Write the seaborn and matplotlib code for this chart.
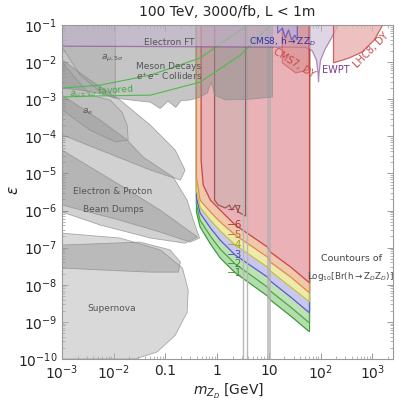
import numpy as np
import matplotlib
matplotlib.use("Agg")
import matplotlib.pyplot as plt
from matplotlib.ticker import LogLocator, NullFormatter
import seaborn as sns

# all shapes given as (log10 m_ZD / GeV, log10 epsilon)

# existing constraints (gray)
supernova_lm = [-3, -1.88, -1.10, -0.67, -0.56, -0.58, -0.81, -1.16, -1.59, -3]
supernova_le = [-6.61, -6.74, -7.06, -7.55, -8.14, -8.74, -9.36, -9.81, -10, -10]

e137_lm = [-3, -1.49, -0.91, -0.71, -0.75, -1.29, -2.26, -3]
e137_le = [-6.93, -6.85, -7.06, -7.39, -7.66, -7.66, -7.60, -7.55]

dump1_lm = [-3, -2.26, -1.74, -1.43, -0.85, -0.58, -0.46, -0.34, -0.52, -1.10, -1.88, -3]
dump1_le = [-2.89, -3.56, -4.10, -4.56, -5.10, -5.72, -6.26, -6.74, -6.85, -6.58, -6.26, -5.85]

dump2_lm = [-3, -1.88, -1.10, -0.62, -0.38, -0.62, -1.29, -2.26, -3]
dump2_le = [-4.37, -5.31, -5.99, -6.47, -6.71, -6.88, -6.74, -6.39, -6.04]

dump3_lm = [-3, -2.46, -1.88, -1.29, -0.81, -0.62, -0.71, -1.29, -2.26, -3]
dump3_le = [-1.94, -2.48, -3.02, -3.70, -4.37, -4.91, -5.18, -4.91, -4.37, -3.96]

ae_lm = [-3, -2.46, -2.07, -1.84, -1.74, -1.72, -1.97, -2.46, -3]
ae_le = [-2.0, -2.89, -3.02, -3.35, -3.70, -4.10, -4.15, -3.83, -3.29]

amu5_lm = [-3, -2.65, -2.26, -1.97, -1.97, -3]
amu5_le = [-1.59, -2.35, -2.80, -2.97, -1.0, -1.0]

top_lm = [-3, 1.07, 1.07, 0.64, 0.16, -0.05, -0.11, -0.19, -0.33, -0.52,
          -0.70, -0.80, -0.95, -1.10, -1.29, -1.68, -1.97, -2.26, -2.65, -3]
top_le = [-1, -1, -2.94, -3.0, -3.02, -2.89, -2.54, -2.83, -2.94, -3.02,
          -3.04, -3.22, -3.05, -3.25, -3.08, -3.02, -2.97, -2.85, -2.75, -2.70]

amu_hi_lm = [-3, -2.26, -1.29, -0.33, 0.59]
amu_hi_le = [-2.70, -2.62, -2.35, -1.89, -1.0]
amu_lo_lm = [-3, -2.26, -1.29, -0.33, 0.45, 1.03]
amu_lo_le = [-2.94, -2.91, -2.89, -2.54, -1.81, -1.0]

ewpt_lm = [-3, 2.35, 2.19, 2.08, 2.0, 1.97, 1.96, 1.95, 1.92, 1.84, 1.71, -3]
ewpt_le = [-1, -1, -1.40, -1.67, -1.95, -2.3, -2.54, -2.3, -1.95, -1.70, -1.60, -1.57]

lhc8_lm = [2.25, 2.25, 2.55, 2.80, 3.04, 3.20]
lhc8_le = [-1, -2.02, -1.89, -1.73, -1.40, -1.0]

cms7_lm = [1.26, 1.26, 1.52, 1.77, 1.77]
cms7_le = [-1, -2.02, -2.29, -2.21, -1]

cms8_lm = [1.17, 1.17, 1.26, 1.32, 1.38, 1.44, 1.50, 1.55, 1.55]
cms8_le = [-1, -1.22, -1.08, -1.35, -1.13, -1.40, -1.27, -1.40, -1]

# resonance vetoes [GeV]
psi_masses = [3.1, 3.7]
upsilon_band = [9.4, 11.0]

# Log10 Br(h -> ZD ZD) contours at 100 TeV
grid_lm = [-0.40, -0.33, -0.13, 0.06, 0.35, 0.97, 1.03, 1.42, 1.77]
c6_lm = [-0.31, -0.27, -0.13, 0.06, 0.35, 0.97, 1.03, 1.42, 1.77]
c6_le = [-4.64, -5.31, -5.72, -5.99, -6.39, -6.98, -7.12, -7.52, -7.93]
c5_le = [-5.12, -5.72, -6.04, -6.31, -6.66, -7.25, -7.39, -7.79, -8.20]
c4_le = [-5.45, -5.91, -6.26, -6.55, -6.93, -7.52, -7.63, -8.06, -8.44]
c3_le = [-5.66, -6.07, -6.47, -6.80, -7.20, -7.79, -7.90, -8.33, -8.74]
c2_le = [-5.85, -6.26, -6.69, -7.04, -7.44, -8.06, -8.17, -8.60, -9.01]
c1_le = [-6.04, -6.44, -6.90, -7.28, -7.68, -8.30, -8.41, -8.84, -9.25]
inner7_lm = [-0.05, -0.05, 0.02, 0.16, 0.24, 0.28, 0.35, 0.41, 0.55, 0.55]
inner7_le = [-1, -5.72, -5.85, -5.93, -5.85, -5.99, -5.85, -6.04, -6.15, -1]
contour_labels = ["\u22127", "\u22126", "\u22125", "\u22124", "\u22123", "\u22122", "\u22121"]
label_le = [-5.99, -6.39, -6.66, -6.93, -7.20, -7.44, -7.68]
label_cols = ["#904848", "#a03838", "#b86a30", "#a09a20", "#4848b8", "#3a8a3a", "#3a8a3a"]


def P(lm, le):
    return 10 ** np.asarray(lm, float), 10 ** np.asarray(le, float)


def gray(ax, lm, le, fc="#8c8c8c", alpha=0.4, z=4):
    x, y = P(lm, le)
    ax.fill(x, y, facecolor=fc, alpha=alpha, edgecolor="none", zorder=z)
    ax.fill(x, y, facecolor="none", edgecolor="#8a8a8a", lw=0.6, alpha=0.7, zorder=z)


def band(ax, lm, le, fc, ec, z):
    x = [lm[0]] + list(lm) + [lm[-1]]
    y = [-1] + list(le) + [-1]
    px, py = P(x, y)
    ax.fill(px, py, facecolor=fc, edgecolor="none", zorder=z)
    lx, ly = P(lm, le)
    ax.plot(np.r_[lx[0], lx], np.r_[0.1, ly], color=ec, lw=0.9, zorder=z)
    ax.plot([lx[-1], lx[-1]], [ly[-1], 0.1], color=ec, lw=0.9, zorder=z)


def text(ax, lm, le, s, **kw):
    ax.text(10 ** lm, 10 ** le, s, ha="center", va="center", zorder=7, **kw)


def main():
    sns.set_style("ticks")
    fig = plt.figure(figsize=(3.99, 4.08), dpi=100)
    ax = fig.add_axes([62 / 399, 49 / 408, 331 / 399, 334 / 408])
    ax.set_xscale("log")
    ax.set_yscale("log")

    # contour bands, stacked
    band(ax, grid_lm, c1_le, "#b4dcac", "#3c9c3c", 1.0)
    band(ax, grid_lm, c2_le, "#bfe2b5", "#48a848", 1.1)
    band(ax, grid_lm, c3_le, "#c8c8ec", "#5a5ad2", 1.2)
    band(ax, grid_lm, c4_le, "#eeeaac", "#c8c040", 1.3)
    band(ax, grid_lm, c5_le, "#f0c8ac", "#e08a48", 1.4)
    band(ax, c6_lm, c6_le, "#eab2b6", "#cc4444", 1.5)
    x, y = P(inner7_lm, inner7_le)
    ax.fill(x, y, facecolor="#d8b2b2", edgecolor="#a05555", lw=0.9, zorder=1.6)

    for lab, le, col in zip(contour_labels, label_le, label_cols):
        text(ax, 0.33, le, lab, color=col, fontsize=7.5)

    # resonance vetoes
    for m in psi_masses:
        ax.axvline(m, color="#b8b8b8", lw=1.0, zorder=2)
    ax.axvspan(upsilon_band[0], upsilon_band[1], color="#b0b0b0", alpha=0.7, lw=0, zorder=2)

    # gray existing bounds
    gray(ax, supernova_lm, supernova_le, fc="#b4b4b4", alpha=0.5)
    gray(ax, e137_lm, e137_le)
    gray(ax, dump2_lm, dump2_le)
    gray(ax, dump1_lm, dump1_le)
    gray(ax, dump3_lm, dump3_le)
    gray(ax, ae_lm, ae_le, alpha=0.25)
    gray(ax, amu5_lm, amu5_le, alpha=0.2)
    gray(ax, top_lm, top_le, alpha=0.5)

    sns.lineplot(x=10 ** np.array(amu_hi_lm), y=10 ** np.array(amu_hi_le), sort=False,
                 color="#4cbb4c", lw=0.8, ax=ax, zorder=5)
    sns.lineplot(x=10 ** np.array(amu_lo_lm), y=10 ** np.array(amu_lo_le), sort=False,
                 color="#4cbb4c", lw=0.8, ax=ax, zorder=5)

    # collider / EWPT bounds
    x, y = P(ewpt_lm, ewpt_le)
    ax.fill(x, y, facecolor="#c4b4d0", alpha=0.55, edgecolor="#7a3a8c", lw=0.9, zorder=5)
    x, y = P(cms7_lm, cms7_le)
    ax.fill(x, y, facecolor="#d68888", alpha=0.5, edgecolor="#c84040", lw=0.9, zorder=5)
    x, y = P(lhc8_lm, lhc8_le)
    ax.fill(x, y, facecolor="#eab2b2", alpha=0.8, edgecolor="#c84040", lw=0.9, zorder=5)
    x, y = P(cms8_lm, cms8_le)
    ax.fill(x, y, facecolor="#b8b8e8", alpha=0.6, edgecolor="#3434c0", lw=0.9, zorder=5)

    g = dict(color="#555555", fontsize=6.5)
    text(ax, -0.93, -1.46, "Electron FT", **g)
    text(ax, -2.03, -1.91, r"$a_{\mu,5\sigma}$", **g)
    text(ax, -0.93, -2.13, "Meson Decays", **g)
    text(ax, -0.93, -2.38, r"$e^{+}e^{-}$ Colliders", **g)
    text(ax, -2.24, -2.81, r"$a_{\mu\pm2\sigma}$ favored", color="#3caa3c", fontsize=6.5, rotation=4)
    text(ax, -2.51, -3.35, r"$a_e$", **g)
    text(ax, -2.03, -5.50, "Electron & Proton", **g)
    text(ax, -2.01, -5.96, "Beam Dumps", **g)
    text(ax, -2.03, -8.65, "Supernova", **g)
    text(ax, 1.26, -1.46, r"CMS8, h$\rightarrow$ZZ$_D$", color="#3030a8", fontsize=6.5)
    text(ax, 1.48, -2.02, "CMS7, DY", color="#c84848", fontsize=7, rotation=-32)
    text(ax, 2.29, -2.21, "EWPT", color="#7a3a8c", fontsize=7)
    text(ax, 2.97, -1.67, "LHC8, DY", color="#c84848", fontsize=7, rotation=45)
    text(ax, 2.60, -7.28, "Countours of", color="#444444", fontsize=6.8)
    text(ax, 2.58, -7.79, r"Log$_{10}$[Br(h$\rightarrow$Z$_D$Z$_D$)]", color="#444444", fontsize=6.3)

    ax.set_xlim(1e-3, 10 ** 3.4)
    ax.set_ylim(1e-10, 1e-1)
    ax.set_xticks([1e-3, 1e-2, 0.1, 1, 10, 100, 1000])
    ax.set_xticklabels([r"$10^{-3}$", r"$10^{-2}$", "0.1", "1", "10", r"$10^{2}$", r"$10^{3}$"])
    ax.set_yticks([10.0 ** -k for k in range(1, 11)])
    ax.set_yticklabels([r"$10^{-%d}$" % k for k in range(1, 11)])
    ax.xaxis.set_minor_locator(LogLocator(base=10, subs=np.arange(2, 10), numticks=20))
    ax.yaxis.set_minor_locator(LogLocator(base=10, subs=np.arange(2, 10), numticks=20))
    ax.xaxis.set_minor_formatter(NullFormatter())
    ax.yaxis.set_minor_formatter(NullFormatter())
    ax.tick_params(which="both", direction="in", top=True, right=True, color="#999999", labelsize=10)
    ax.tick_params(which="major", length=4, width=0.7)
    ax.tick_params(which="minor", length=2, width=0.5)
    for s in ax.spines.values():
        s.set_color("#999999")
        s.set_linewidth(0.8)
        s.set_zorder(10)

    fig.text(229 / 399, 1 - 391 / 408, r"$m_{Z_D}$ [GeV]", fontsize=10, ha="center", va="center")
    fig.text(14 / 399, 1 - 190 / 408, r"$\epsilon$", fontsize=11, rotation=90, ha="center", va="center")
    fig.text(227 / 399, 1 - 12 / 408, "100 TeV, 3000/fb, L < 1m", fontsize=10, ha="center", va="center")
    fig.savefig("out.png", dpi=100)


if __name__ == '__main__':
    main()
